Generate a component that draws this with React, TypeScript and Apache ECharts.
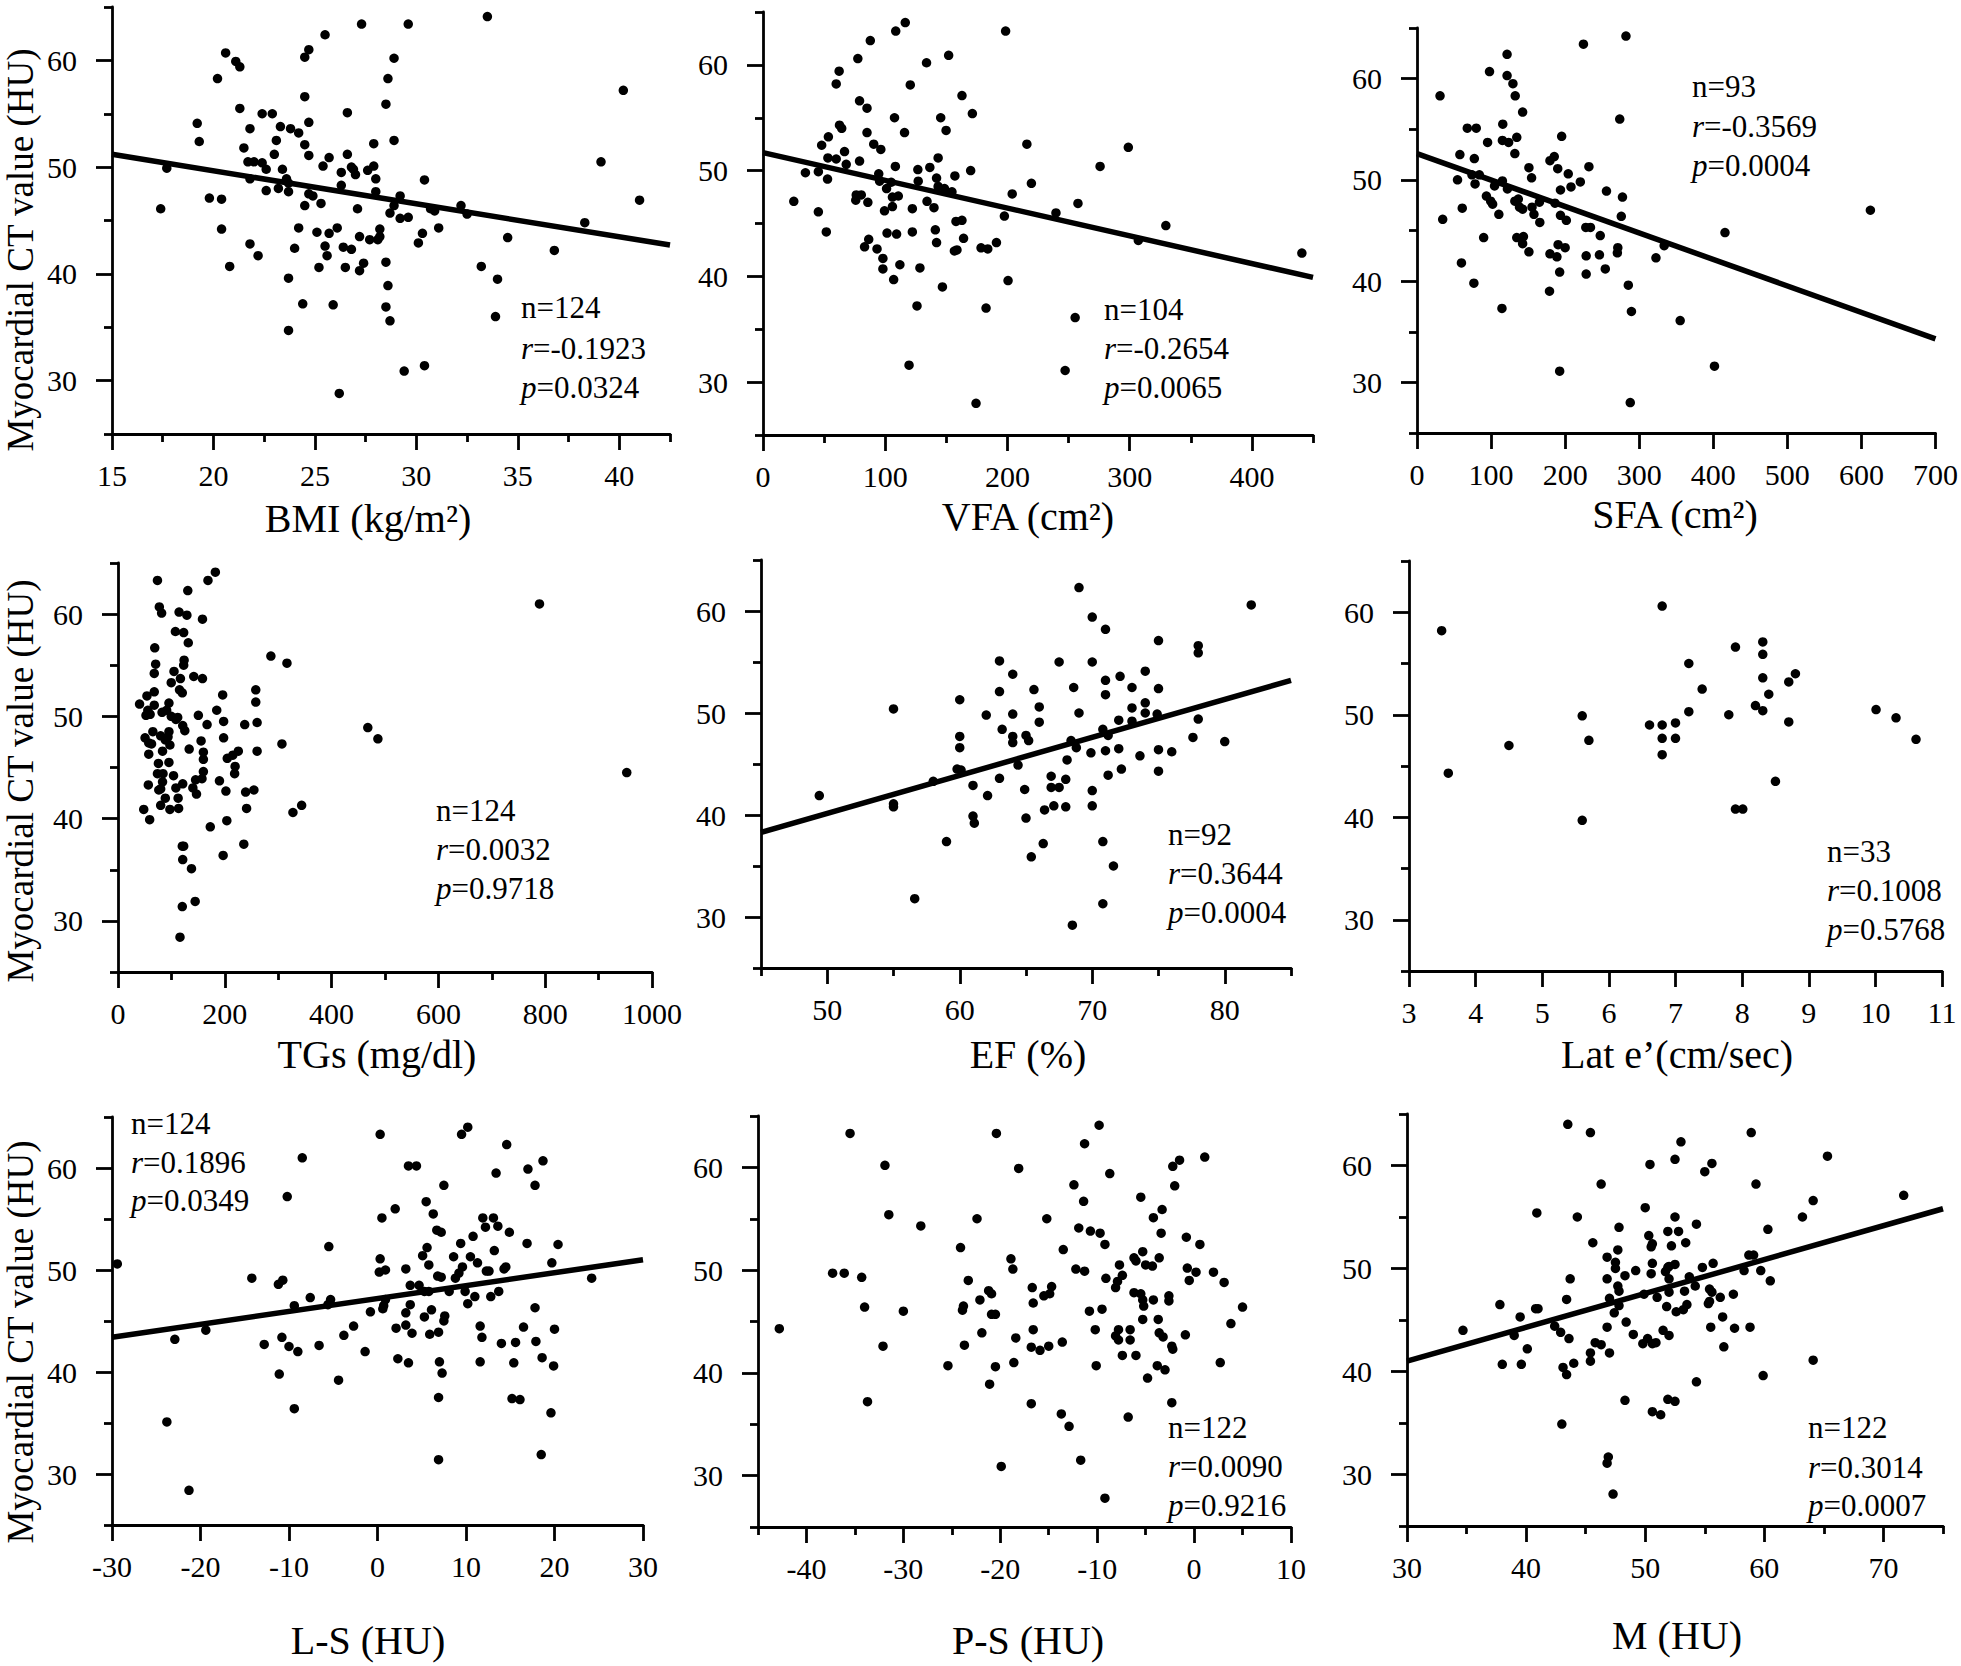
import React, { useEffect, useRef } from 'react';
import * as echarts from 'echarts';

const FONT = "'Liberation Serif', 'Times New Roman', serif";

// ---------- data ----------
const bmiPoints: [number, number][] = [
  [33.5,64.1],[27.3,63.4],[29.6,63.4],[25.5,62.4],[20.6,60.7],[24.7,61.0],[24.5,60.3],[21.1,59.9],[21.3,59.4],[28.9,60.2],
  [20.2,58.3],[40.2,57.2],[28.6,58.3],[24.5,56.6],[28.5,55.9],[21.3,55.5],[22.4,55.0],[22.9,55.0],[26.6,55.1],[19.2,54.1],
  [24.7,54.2],[23.3,53.8],[21.8,53.6],[23.8,53.6],[24.2,53.2],[19.3,52.4],[23.1,52.5],[28.9,52.5],[27.9,52.2],[24.5,52.1],
  [21.5,51.8],[23.0,51.2],[24.7,51.1],[26.6,51.2],[25.7,50.9],[25.4,50.1],[21.7,50.5],[22.0,50.5],[22.4,50.4],[22.6,49.8],
  [23.4,49.8],[26.8,50.0],[26.9,49.8],[26.3,49.5],[27.0,49.3],[27.6,49.7],[27.9,50.1],[17.7,49.9],[39.1,50.5],[21.8,48.9],
  [23.6,48.9],[28.0,48.9],[30.4,48.8],[23.7,48.5],[26.3,48.3],[23.2,48.0],[22.6,47.8],[23.7,47.7],[28.0,47.7],[24.7,47.5],
  [24.9,47.3],[29.2,47.3],[19.8,47.1],[20.4,47.0],[41.0,46.9],[25.3,46.6],[24.5,46.4],[28.9,46.4],[27.1,46.1],[17.4,46.1],
  [30.7,46.1],[30.9,45.9],[32.2,46.4],[32.5,45.6],[28.7,45.7],[29.2,45.2],[29.6,45.3],[38.3,44.8],[20.4,44.2],[24.2,44.3],
  [26.1,44.3],[31.1,44.3],[25.1,43.9],[25.7,43.8],[30.3,43.8],[28.2,44.2],[28.2,43.5],[28.1,43.2],[27.2,43.5],[27.7,43.2],
  [34.5,43.4],[30.1,42.9],[21.8,42.8],[25.5,42.6],[26.4,42.5],[26.8,42.3],[24.0,42.4],[36.8,42.2],[25.6,41.7],[22.2,41.7],
  [20.8,40.7],[25.2,40.6],[26.5,40.6],[27.4,41.0],[27.2,40.3],[28.5,41.1],[33.2,40.7],[23.7,39.6],[34.0,39.5],[28.6,38.9],
  [24.4,37.2],[25.9,37.1],[28.5,36.9],[33.9,36.0],[28.7,35.6],[23.7,34.7],[29.4,30.9],[30.4,31.4],[26.2,28.8]
];
const bmiFit: [number, number][] = [[15, 51.2], [42.5, 42.7]];
const bmiStats = ['124', '-0.1923', '0.0324'];

const vfaPoints: [number, number][] = [
  [116.4,64.0],[108.6,63.2],[198.5,63.2],[87.8,62.3],[151.9,60.9],[77.6,60.6],[133.8,60.2],[62.3,59.4],[59.9,58.2],[120.5,58.1],
  [162.8,57.1],[79.0,56.6],[85.1,55.9],[107.6,55.0],[145.4,55.0],[171.3,55.4],[62.6,54.3],[64.4,54.0],[85.1,53.6],[115.8,53.6],
  [149.8,53.8],[53.5,53.2],[48.0,52.4],[90.6,52.5],[215.9,52.5],[298.9,52.2],[96.4,52.0],[66.7,51.8],[53.1,51.2],[59.9,51.1],
  [143.3,51.2],[79.0,50.9],[68.1,50.6],[108.3,50.4],[136.5,50.3],[126.7,50.1],[275.8,50.4],[169.9,50.0],[34.7,49.8],[45.3,49.9],
  [94.7,49.7],[157.0,49.5],[142.0,49.3],[52.8,49.2],[95.4,49.0],[127.0,49.0],[104.9,48.9],[219.6,48.8],[101.1,48.3],[143.3,48.5],
  [148.5,48.3],[154.6,48.0],[76.3,47.7],[80.4,47.7],[203.9,47.8],[110.7,47.6],[105.9,47.5],[75.9,47.2],[25.2,47.1],[85.8,47.0],
  [134.2,47.1],[257.7,46.9],[105.9,46.6],[139.9,46.5],[122.2,46.4],[99.4,46.2],[45.3,46.1],[239.7,46.0],[197.5,45.7],[157.9,45.2],
  [162.8,45.3],[329.6,44.8],[51.8,44.2],[101.5,44.1],[122.2,44.2],[141.0,44.4],[109.3,44.0],[164.1,43.6],[86.5,43.5],[307.1,43.4],
  [142.0,43.2],[191.0,43.2],[83.1,42.8],[93.3,42.6],[178.4,42.7],[183.9,42.6],[156.6,42.4],[158.7,42.5],[440.9,42.2],[98.1,41.7],
  [112.0,41.1],[98.1,40.7],[128.4,40.8],[106.9,39.7],[200.5,39.6],[146.8,39.0],[126.0,37.2],[182.5,37.0],[255.4,36.1],[119.5,31.6],
  [247.2,31.1],[174.3,28.0]
];
const vfaFit: [number, number][] = [[0, 51.7], [450, 39.9]];
const vfaStats = ['104', '-0.2654', '0.0065'];

const sfaPoints: [number, number][] = [
  [282.1,64.2],[224.7,63.4],[121.6,62.4],[97.9,60.7],[121.6,60.3],[129.5,59.5],[132.6,58.3],[31.1,58.3],[142.6,56.7],[273.7,56.0],
  [67.9,55.1],[80.0,55.1],[115.8,55.5],[195.3,54.3],[134.7,54.2],[95.3,53.7],[115.3,53.9],[123.7,53.7],[57.9,52.5],[132.1,52.6],
  [77.4,52.1],[185.3,52.3],[179.5,51.9],[151.1,51.2],[232.1,51.3],[190.0,51.1],[154.7,50.2],[204.2,50.6],[220.5,49.8],[54.7,50.0],
  [74.2,50.5],[84.2,50.5],[115.3,49.9],[78.4,49.6],[104.7,49.4],[207.9,49.3],[122.1,49.1],[193.7,49.0],[255.8,48.9],[93.7,48.4],
  [277.4,48.3],[136.8,48.1],[132.1,47.9],[165.3,47.8],[99.5,47.9],[186.3,47.7],[102.1,47.6],[138.4,47.3],[155.3,47.3],[61.1,47.2],
  [142.6,47.1],[193.7,46.5],[157.9,46.6],[275.8,46.4],[110.5,46.6],[34.7,46.1],[201.6,46.0],[165.8,45.8],[612.1,47.0],[227.9,45.3],
  [234.2,45.3],[415.8,44.8],[90.0,44.3],[134.7,44.3],[143.7,44.4],[247.4,44.5],[142.6,43.7],[333.7,43.5],[190.5,43.6],[200.0,43.3],
  [271.1,43.3],[151.1,42.9],[270.5,42.8],[179.5,42.7],[228.4,42.5],[246.3,42.6],[188.9,42.4],[322.6,42.3],[60.0,41.8],[254.2,41.2],
  [192.6,40.9],[228.4,40.7],[76.8,39.8],[285.3,39.6],[178.9,39.0],[114.7,37.3],[289.5,37.0],[355.3,36.1],[401.6,31.6],[192.6,31.1],
  [287.9,28.0]
];
const sfaFit: [number, number][] = [[0, 52.6], [700, 34.3]];
const sfaStats = ['93', '-0.3569', '0.0004'];

const tgPoints: [number, number][] = [
  [182.3,64.1],[73.9,63.3],[168.5,63.3],[130.7,62.3],[789.3,61.0],[77.4,60.7],[81.7,60.1],[114.4,60.2],[129.0,59.9],[158.2,59.5],
  [107.5,58.3],[123.0,58.2],[131.6,57.2],[68.8,56.7],[286.3,55.9],[316.4,55.2],[70.5,55.1],[123.8,55.5],[123.0,55.0],[104.9,54.4],
  [67.9,54.2],[141.9,53.9],[158.2,53.7],[116.9,53.7],[99.7,53.3],[258.0,52.6],[67.9,52.4],[115.2,52.6],[120.4,52.3],[54.2,52.0],
  [196.0,52.1],[258.0,51.4],[40.4,51.2],[95.4,51.3],[67.9,51.1],[55.9,50.6],[82.5,50.4],[91.1,50.6],[184.9,50.6],[52.4,50.1],
  [60.2,50.2],[150.5,50.1],[99.7,50.0],[111.8,49.9],[108.4,49.7],[197.8,49.5],[260.5,49.4],[237.3,49.2],[166.8,49.2],[121.2,49.1],
  [125.1,48.6],[467.8,48.9],[95.4,48.5],[65.3,48.5],[79.9,48.1],[93.7,48.0],[88.6,47.7],[197.8,47.9],[486.7,47.8],[50.7,47.9],
  [155.6,47.6],[307.0,47.3],[57.6,47.4],[62.8,47.3],[97.2,47.2],[133.3,46.8],[260.5,46.6],[225.3,46.6],[83.4,46.6],[57.6,46.3],
  [159.9,46.5],[215.0,46.2],[204.6,45.9],[159.9,45.8],[75.7,45.4],[95.4,45.5],[219.3,45.1],[84.3,44.4],[159.9,44.6],[952.7,44.5],
  [73.9,44.4],[218.4,44.4],[104.0,44.2],[157.3,43.9],[83.4,43.6],[145.3,43.8],[190.0,43.7],[56.8,43.3],[121.2,43.4],[79.9,42.9],
  [108.4,43.0],[140.2,43.0],[76.4,42.8],[202.1,42.7],[254.5,42.8],[239.0,42.6],[147.0,42.4],[88.6,42.0],[112.6,42.0],[79.9,41.3],
  [343.9,41.3],[327.6,40.6],[48.2,40.9],[97.2,40.9],[113.5,41.0],[240.8,41.0],[59.3,39.9],[203.8,39.8],[172.8,39.2],[235.6,37.5],
  [120.4,37.3],[123.0,37.3],[196.9,36.4],[121.2,36.0],[137.6,35.1],[144.5,31.9],[120.4,31.4],[116.1,28.4]
];
const tgStats = ['124', '0.0032', '0.9718'];

const efPoints: [number, number][] = [
  [69.0,62.3],[82.0,60.6],[70.0,59.4],[71.0,58.2],[75.0,57.1],[78.0,56.6],[78.0,55.9],[63.0,55.1],[67.5,55.0],[70.0,55.0],
  [64.0,53.8],[74.0,54.1],[72.1,53.6],[71.0,53.2],[68.6,52.5],[73.0,52.5],[75.0,52.4],[65.6,52.3],[63.0,52.1],[71.0,51.8],
  [60.0,51.3],[74.0,51.0],[55.0,50.4],[66.0,50.6],[73.0,50.5],[62.0,49.8],[64.0,49.9],[69.0,50.0],[74.0,50.0],[74.9,49.9],
  [78.0,49.4],[66.0,49.1],[72.0,49.3],[73.0,49.2],[63.2,48.4],[70.8,48.4],[71.2,47.8],[60.0,47.7],[64.0,47.7],[65.0,47.8],
  [77.6,47.6],[64.0,47.1],[65.2,47.3],[68.4,47.3],[80.0,47.2],[68.8,46.6],[60.0,46.6],[72.0,46.5],[71.0,46.3],[75.0,46.4],
  [69.9,46.1],[76.0,46.2],[73.6,45.8],[68.1,45.4],[64.4,44.9],[59.8,44.5],[60.1,44.4],[72.2,44.5],[75.0,44.3],[71.2,43.9],
  [63.0,43.6],[66.9,43.8],[68.0,43.5],[58.0,43.3],[61.0,42.9],[66.9,42.7],[67.5,42.7],[64.9,42.5],[70.0,42.4],[62.1,41.9],
  [49.4,41.9],[55.0,41.1],[55.0,40.8],[67.1,40.9],[68.0,40.8],[70.0,40.9],[66.4,40.5],[61.0,39.9],[61.1,39.2],[65.0,39.7],
  [59.0,37.4],[70.8,37.4],[66.3,37.2],[65.4,35.9],[71.6,35.0],[56.6,31.8],[70.8,31.3],[68.5,29.2]
];
const efFit: [number, number][] = [[45, 38.3], [85, 53.2]];
const efStats = ['92', '0.3644', '0.0004'];

const latPoints: [number, number][] = [
  [6.80,60.6],[3.49,58.2],[8.31,57.1],[7.90,56.6],[8.31,55.9],[7.20,55.0],[8.31,53.6],[8.80,54.0],[8.70,53.2],[7.40,52.5],
  [8.40,52.0],[8.20,50.9],[8.31,50.4],[7.20,50.3],[10.01,50.5],[5.60,49.9],[7.80,50.0],[10.31,49.7],[8.70,49.3],[6.61,49.0],
  [6.80,49.0],[7.00,49.2],[6.80,47.7],[7.00,47.7],[5.70,47.5],[10.61,47.6],[4.50,47.0],[6.80,46.1],[3.59,44.3],[8.50,43.5],
  [7.90,40.8],[8.01,40.8],[5.60,39.7]
];
const latStats = ['33', '0.1008', '0.5768'];

const lsPoints: [number, number][] = [
  [10.2,64.0],[9.5,63.3],[0.3,63.3],[14.6,62.3],[-8.5,61.0],[3.5,60.2],[4.4,60.2],[18.7,60.7],[17.0,59.9],[13.4,59.5],
  [7.5,58.3],[17.8,58.3],[-10.2,57.2],[5.5,56.7],[2.0,56.0],[6.3,55.5],[11.9,55.1],[13.1,55.1],[0.5,55.1],[13.6,54.3],
  [12.2,54.2],[6.7,53.9],[7.2,53.7],[14.9,53.7],[10.8,53.3],[9.4,52.6],[16.9,52.6],[20.4,52.5],[-5.5,52.3],[5.6,52.2],
  [13.2,51.9],[5.1,51.4],[10.5,51.3],[8.6,51.3],[0.3,51.1],[-29.4,50.6],[5.8,50.5],[11.3,50.7],[19.7,50.7],[14.5,50.3],
  [9.6,50.3],[3.2,50.1],[0.2,49.8],[0.9,50.0],[14.3,50.1],[12.3,49.9],[12.6,49.9],[9.2,49.7],[8.8,49.2],[-14.2,49.2],
  [-10.7,49.0],[-11.2,48.6],[6.8,49.4],[7.2,49.3],[24.2,49.2],[3.7,48.5],[4.7,48.5],[5.3,47.9],[5.8,47.9],[8.1,47.9],
  [9.9,47.9],[13.7,47.9],[12.8,47.4],[11.0,47.4],[-7.6,47.3],[-5.3,47.1],[10.2,46.7],[-5.6,46.6],[-9.4,46.5],[0.9,47.1],
  [0.7,46.5],[3.7,46.6],[-0.8,45.9],[0.6,46.2],[17.8,46.3],[6.1,46.1],[3.2,45.8],[7.6,45.5],[5.3,45.4],[7.5,45.0],
  [-2.7,44.5],[2.1,44.3],[3.2,44.6],[11.6,44.5],[16.5,44.4],[20.0,44.2],[-19.4,44.1],[3.9,43.8],[5.9,43.7],[6.9,43.9],
  [-3.8,43.6],[-10.8,43.4],[11.8,43.4],[-22.9,43.2],[-12.8,42.7],[-6.6,42.6],[14.0,42.8],[15.6,42.9],[17.9,43.0],[-10.0,42.5],
  [-9.0,42.0],[-1.4,42.0],[2.3,41.3],[3.5,40.9],[7.0,41.0],[11.6,41.0],[15.4,40.9],[18.6,41.4],[19.9,40.6],[-11.1,39.8],
  [7.3,39.9],[-4.4,39.2],[6.9,37.5],[15.2,37.4],[16.1,37.3],[-9.4,36.4],[19.6,36.0],[-23.8,35.1],[6.9,31.4],[18.5,31.9],
  [-21.3,28.4]
];
const lsFit: [number, number][] = [[-30, 43.4], [30, 51.0]];
const lsStats = ['124', '0.1896', '0.0349'];

const psPoints: [number, number][] = [
  [-9.8,64.1],[-35.5,63.3],[-20.4,63.3],[-11.3,62.3],[-31.9,60.2],[1.1,61.0],[-1.5,60.7],[-2.2,60.1],[-18.1,59.9],[-8.7,59.4],
  [-12.4,58.3],[-2.0,58.2],[-5.5,57.1],[-11.4,56.7],[-31.5,55.4],[-3.3,55.9],[-4.2,55.1],[-15.2,55.0],[-22.4,55.0],[-28.2,54.3],
  [-11.9,54.1],[-10.7,53.8],[-9.7,53.6],[-3.4,53.6],[-0.8,53.2],[-9.2,52.5],[0.6,52.5],[-24.1,52.2],[-13.5,52.0],[-5.3,51.8],
  [-6.2,51.2],[-6.0,50.9],[-3.6,51.2],[-18.9,51.1],[-7.7,50.5],[-5.0,50.5],[-4.3,50.4],[-0.7,50.2],[-18.7,50.1],[-12.2,50.1],
  [-11.3,49.9],[0.2,49.8],[2.0,49.8],[-37.3,49.7],[-36.1,49.7],[-7.4,49.5],[-34.3,49.3],[-9.1,49.2],[-0.5,49.0],[-23.3,49.0],
  [-7.9,48.9],[3.1,48.8],[-16.7,48.3],[-8.1,48.3],[-14.7,48.4],[-21.2,48.0],[-20.9,47.7],[-6.2,47.8],[-5.5,47.7],[-14.9,47.7],
  [-15.5,47.5],[-2.6,47.5],[-4.2,47.1],[-5.3,47.1],[-22.1,47.1],[-2.6,47.0],[-16.6,46.8],[-23.8,46.5],[-23.9,46.1],[-34.0,46.4],
  [-5.2,46.5],[5.0,46.4],[-9.5,46.2],[-10.8,46.0],[-30.0,46.0],[-20.9,45.7],[-20.5,45.7],[-3.7,45.2],[-5.3,45.2],[3.8,44.8],
  [-42.8,44.3],[-16.6,44.2],[-10.2,44.2],[-7.8,44.2],[-6.6,44.2],[-3.6,43.9],[-0.9,43.7],[-21.9,43.9],[-8.1,43.6],[-3.2,43.5],
  [-6.6,43.2],[-7.8,43.2],[-18.4,43.4],[-13.6,43.0],[-23.7,42.7],[-32.1,42.6],[-16.8,42.5],[-15.9,42.2],[-15.0,42.6],[-2.3,42.6],
  [-2.2,42.3],[-7.4,41.7],[-6.0,41.7],[-25.4,40.7],[-20.5,40.6],[-18.6,41.0],[-10.1,40.7],[-3.8,40.7],[2.7,41.0],[-3.0,40.3],
  [-4.8,39.5],[-21.1,38.9],[-33.7,37.2],[-16.8,37.0],[-2.3,37.1],[-13.7,36.0],[-6.8,35.7],[-12.9,34.8],[-19.9,30.9],[-11.7,31.5],
  [-9.2,27.8]
];
const psStats = ['122', '0.0090', '0.9216'];

const mPoints: [number, number][] = [
  [43.5,64.0],[45.4,63.2],[58.9,63.2],[53.0,62.3],[65.3,60.9],[52.5,60.6],[50.4,60.1],[55.6,60.2],[55.0,59.4],[46.3,58.2],
  [59.3,58.2],[71.7,57.1],[64.1,56.6],[50.0,55.9],[40.9,55.4],[63.2,55.0],[44.3,55.0],[52.5,55.0],[54.3,54.3],[47.8,54.0],
  [60.3,53.8],[51.9,53.6],[52.8,53.6],[50.3,53.2],[45.6,52.5],[53.4,52.5],[50.6,52.4],[50.5,52.1],[52.2,52.2],[47.7,51.8],
  [58.7,51.3],[59.1,51.3],[46.8,51.1],[47.5,50.6],[50.6,50.5],[52.5,50.4],[55.7,50.5],[52.0,50.2],[54.8,50.1],[51.9,50.1],
  [47.5,50.0],[49.2,49.8],[58.3,49.8],[59.7,49.8],[51.7,49.7],[50.5,49.5],[48.3,49.3],[53.7,49.2],[43.7,49.0],[46.8,49.0],
  [52.0,49.0],[60.5,48.8],[54.2,48.3],[47.7,48.3],[47.8,47.8],[55.4,48.0],[53.3,47.8],[55.6,47.7],[52.0,47.7],[57.4,47.5],
  [49.9,47.5],[51.0,47.2],[56.3,47.2],[47.0,47.1],[43.4,47.0],[55.4,46.8],[55.3,46.6],[47.8,46.4],[53.5,46.5],[51.8,46.3],
  [37.8,46.5],[41.0,46.1],[40.8,46.1],[53.2,46.0],[52.6,45.8],[47.4,45.7],[39.5,45.3],[56.5,45.3],[48.4,44.8],[34.7,44.0],
  [46.8,44.3],[42.4,44.4],[55.5,44.3],[58.8,44.3],[57.5,44.2],[42.9,43.8],[51.5,44.0],[52.0,43.5],[49.0,43.6],[39.0,43.5],
  [43.6,43.2],[50.2,43.2],[49.8,42.7],[50.9,42.8],[50.6,42.7],[45.8,42.8],[46.3,42.6],[56.6,42.4],[40.1,42.2],[45.4,41.8],
  [47.0,41.8],[45.4,41.0],[64.1,41.1],[38.0,40.7],[39.6,40.7],[44.0,40.8],[43.1,40.4],[43.4,39.7],[59.9,39.6],[54.3,39.0],
  [48.3,37.2],[51.9,37.3],[52.5,37.1],[50.6,36.1],[51.3,35.8],[43.0,34.9],[46.9,31.7],[46.8,31.1],[47.3,28.1]
];
const mFit: [number, number][] = [[30, 41.0], [75, 55.8]];
const mStats = ['122', '0.3014', '0.0007'];

// ---------- axis ticks ----------
const yTicks = [30, 40, 50, 60];
const yMinor = [25, 35, 45, 55, 65];
const yRange: [number, number] = [25, 65];

const xNames = ['BMI (kg/m²)', 'VFA (cm²)', 'SFA (cm²)', 'TGs (mg/dl)', 'EF (%)', 'Lat e’(cm/sec)', 'L-S (HU)', 'P-S (HU)', 'M (HU)'];
const xRanges: [number, number][] = [[15, 42.5], [0, 450], [0, 700], [0, 1000], [45, 85], [3, 11], [-30, 30], [-45, 10], [30, 75]];
const xTicks: number[][] = [
  [15, 20, 25, 30, 35, 40],
  [0, 100, 200, 300, 400],
  [0, 100, 200, 300, 400, 500, 600, 700],
  [0, 200, 400, 600, 800, 1000],
  [50, 60, 70, 80],
  [3, 4, 5, 6, 7, 8, 9, 10, 11],
  [-30, -20, -10, 0, 10, 20, 30],
  [-40, -30, -20, -10, 0, 10],
  [30, 40, 50, 60, 70],
];
const xMinor: number[][] = [
  [17.5, 22.5, 27.5, 32.5, 37.5, 42.5],
  [50, 150, 250, 350, 450],
  [],
  [100, 300, 500, 700, 900],
  [45, 55, 65, 75, 85],
  [],
  [],
  [-45, -35, -25, -15, -5, 5],
  [35, 45, 55, 65, 75],
];
const yTitle = 'Myocardial CT value (HU)';

const pointSets = [bmiPoints, vfaPoints, sfaPoints, tgPoints, efPoints, latPoints, lsPoints, psPoints, mPoints];
const fits: ([number, number][] | null)[] = [bmiFit, vfaFit, sfaFit, null, efFit, null, lsFit, null, mFit];
const stats = [bmiStats, vfaStats, sfaStats, tgStats, efStats, latStats, lsStats, psStats, mStats];

// ---------- layout (pixels) ----------
const layout = [
  { l: 112, t: 7, w: 558, h: 427, tx: 368, ty: 518, sx: 521, sy: [307, 348, 387] },
  { l: 763, t: 12, w: 550, h: 423, tx: 1028, ty: 516, sx: 1104, sy: [309, 348, 387] },
  { l: 1417, t: 28, w: 526, h: 405, tx: 1675, ty: 514, sx: 1692, sy: [86, 126, 165] },
  { l: 118, t: 563, w: 534, h: 409, tx: 377, ty: 1054, sx: 436, sy: [810, 849, 888] },
  { l: 761, t: 560, w: 530, h: 408, tx: 1028, ty: 1054, sx: 1168, sy: [834, 873, 912] },
  { l: 1409, t: 561, w: 533, h: 410, tx: 1677, ty: 1054, sx: 1827, sy: [851, 890, 929] },
  { l: 112, t: 1117, w: 531, h: 408, tx: 368, ty: 1640, sx: 131, sy: [1123, 1162, 1200] },
  { l: 758, t: 1116, w: 533, h: 411, tx: 1028, ty: 1640, sx: 1168, sy: [1427, 1466, 1505] },
  { l: 1407, t: 1114, w: 536, h: 412, tx: 1677, ty: 1635, sx: 1808, sy: [1427, 1467, 1505] },
];
const yTitlePos = [[20, 250], [20, 781], [20, 1342]];

const LINE = { color: '#000', width: 2.8 };
const TICK_FONT = 30;
const plainNumber = (v: number) => String(v);

function buildOption() {
  const grid: any[] = [];
  const xAxis: any[] = [];
  const yAxis: any[] = [];
  const series: any[] = [];
  const graphic: any[] = [];

  layout.forEach((g, i) => {
    grid.push({ left: g.l, top: g.t, width: g.w, height: g.h, containLabel: false });
    const [xmin, xmax] = xRanges[i];
    xAxis.push({
      gridIndex: i, type: 'value', min: xmin, max: xmax, position: 'bottom',
      axisLine: { show: true, onZero: false, lineStyle: LINE },
      axisTick: { show: true, customValues: xTicks[i], length: 16, inside: false, lineStyle: LINE },
      axisLabel: {
        show: true, customValues: xTicks[i], margin: 26, fontSize: TICK_FONT, fontFamily: FONT, color: '#000',
        showMinLabel: true, showMaxLabel: true, formatter: plainNumber,
      },
      splitLine: { show: false },
    });
    xAxis.push({
      gridIndex: i, type: 'value', min: xmin, max: xmax, position: 'bottom',
      axisLine: { show: false, onZero: false },
      axisTick: { show: xMinor[i].length > 0, customValues: xMinor[i].length ? xMinor[i] : [xmin], length: 8, inside: false, lineStyle: LINE },
      axisLabel: { show: false },
      splitLine: { show: false },
    });
    yAxis.push({
      gridIndex: i, type: 'value', min: yRange[0], max: yRange[1], position: 'left',
      axisLine: { show: true, onZero: false, lineStyle: LINE },
      axisTick: { show: true, customValues: yTicks, length: 16, inside: false, lineStyle: LINE },
      axisLabel: { show: true, customValues: yTicks, margin: 35, fontSize: TICK_FONT, fontFamily: FONT, color: '#000', formatter: plainNumber },
      splitLine: { show: false },
    });
    yAxis.push({
      gridIndex: i, type: 'value', min: yRange[0], max: yRange[1], position: 'left',
      axisLine: { show: false, onZero: false },
      axisTick: { show: true, customValues: yMinor, length: 8, inside: false, lineStyle: LINE },
      axisLabel: { show: false },
      splitLine: { show: false },
    });

    series.push({
      type: 'scatter', xAxisIndex: 2 * i, yAxisIndex: 2 * i, data: pointSets[i],
      symbol: 'circle', symbolSize: 9.5, itemStyle: { color: '#000', opacity: 1 }, silent: true,
    });
    const fit = fits[i];
    if (fit) {
      series.push({
        type: 'line', xAxisIndex: 2 * i, yAxisIndex: 2 * i, data: fit,
        symbol: 'none', showSymbol: false, lineStyle: { color: '#000', width: 5.5 }, silent: true, z: 3,
      });
    }

    graphic.push({
      type: 'text', x: g.tx, y: g.ty,
      style: { text: xNames[i], fontSize: 40, fontFamily: FONT, fill: '#000', textAlign: 'center', textVerticalAlign: 'middle', align: 'center', verticalAlign: 'middle' },
    });
    const st = stats[i];
    const lines = ['n=' + st[0], '{i|r}=' + st[1], '{i|p}=' + st[2]];
    lines.forEach((txt, k) => {
      graphic.push({
        type: 'text', x: g.sx, y: g.sy[k],
        style: {
          text: txt, fontSize: 31, fontFamily: FONT, fill: '#000',
          textAlign: 'left', textVerticalAlign: 'middle', align: 'left', verticalAlign: 'middle',
          rich: { i: { fontStyle: 'italic', fontSize: 31, fontFamily: FONT, fill: '#000' } },
        },
      });
    });
  });

  yTitlePos.forEach(([x, y]) => {
    graphic.push({
      type: 'text', x, y, rotation: Math.PI / 2,
      style: { text: yTitle, fontSize: 37, fontFamily: FONT, fill: '#000', textAlign: 'center', textVerticalAlign: 'middle', align: 'center', verticalAlign: 'middle' },
    });
  });

  return {
    animation: false,
    backgroundColor: '#fff',
    grid, xAxis, yAxis, series, graphic,
  };
}

export default function App() {
  const ref = useRef<HTMLDivElement>(null);
  useEffect(() => {
    if (!ref.current) return;
    const chart = echarts.init(ref.current, null, { renderer: 'svg' });
    chart.setOption(buildOption() as any);
    return () => chart.dispose();
  }, []);
  return (
    <div
      ref={ref}
      style={{ position: 'absolute', left: 0, top: 0, width: 1961, height: 1666, background: '#fff' }}
    />
  );
}
